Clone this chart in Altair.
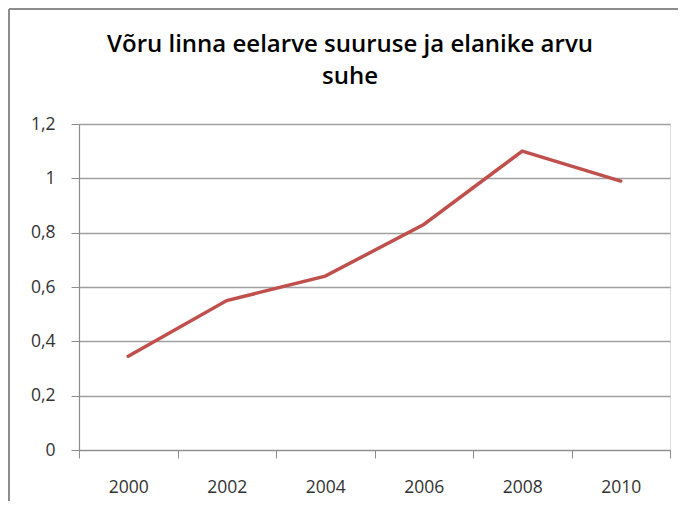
import altair as alt
import pandas as pd

years = ["2000", "2002", "2004", "2006", "2008", "2010"]
ratio = [0.345, 0.55, 0.64, 0.83, 1.10, 0.99]
y_ticks = [0, 0.2, 0.4, 0.6, 0.8, 1.0, 1.2]
title_lines = ["Võru linna eelarve suuruse ja elanike arvu", "suhe"]

df = pd.DataFrame({"year": years, "ratio": ratio})

W, H = 591, 326
FONT = "Open Sans"

line = alt.Chart(df).mark_line(color="#C0504D", strokeWidth=3.5, strokeCap="round").encode(
    x=alt.X(
        "year:O",
        bandPosition=0.5,
        scale=alt.Scale(type="band", paddingInner=0, paddingOuter=0),
        axis=alt.Axis(
            title=None, labelAngle=0, tickBand="extent", domainColor="#8c8c8c",
            tickColor="#8c8c8c", tickSize=8, labelPadding=20, labelFontSize=17.5,
            labelColor="#333333", labelFont=FONT, grid=False, domainWidth=1.2,
        ),
    ),
    y=alt.Y(
        "ratio:Q",
        scale=alt.Scale(domain=[0, 1.2], nice=False),
        axis=alt.Axis(
            title=None, values=y_ticks, labelExpr="replace(format(datum.value, '~g'), '.', ',')",
            domainColor="#8c8c8c", tickColor="#8c8c8c", tickSize=8, labelPadding=16,
            labelFontSize=17.5, labelColor="#333333", labelFont=FONT,
            grid=True, gridColor="#a0a0a0", gridWidth=1.3, domainWidth=1.2,
        ),
    ),
)

frame_data = alt.Data(values=[{"k": 1}])
left_border = alt.Chart(frame_data).mark_rule(color="#8c8c8c", strokeWidth=2).encode(
    x=alt.value(-70), y=alt.value(-115), y2=alt.value(H + 51)
)
top_border = alt.Chart(frame_data).mark_rule(color="#8c8c8c", strokeWidth=2).encode(
    x=alt.value(-70), x2=alt.value(W + 8), y=alt.value(-115)
)

title_df = pd.DataFrame({"t": title_lines, "row": [0, 1]})
title = alt.Chart(title_df).mark_text(
    font=FONT, fontSize=24, fontWeight=600, color="#000000", align="center", baseline="middle"
).encode(
    text="t:N",
    x=alt.value(271),
    y=alt.Y("row:Q", axis=None, scale=alt.Scale(domain=[0, 1], range=[-79, -47])),
)

chart = alt.layer(left_border, top_border, line, title).resolve_scale(y="independent").properties(
    width=W,
    height=H,
    padding={"left": 71, "top": 116, "right": 8, "bottom": 51},
    autosize=alt.AutoSizeParams(type="none"),
).configure_view(stroke=None).configure(background="white")

chart.save("out.html", embed_options={"renderer": "svg", "actions": False})
